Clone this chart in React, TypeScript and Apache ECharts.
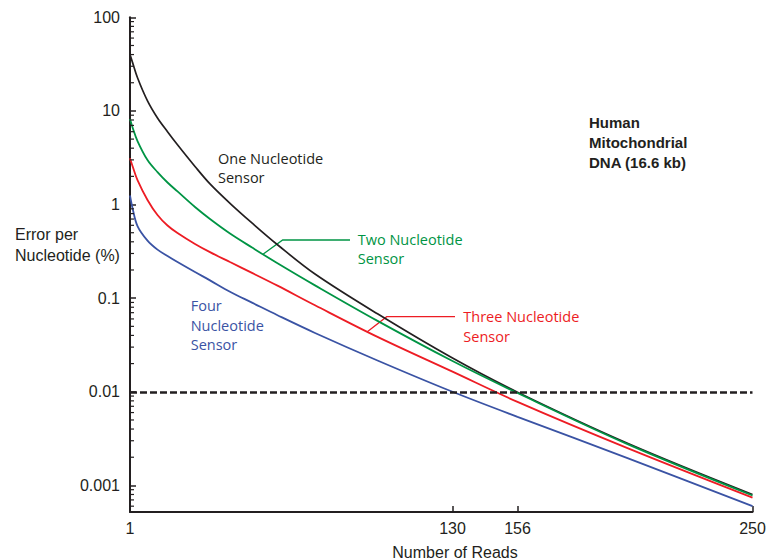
import React, { useEffect, useRef } from "react";
import * as echarts from "echarts";

// ---- data ----
const reads = [1, 2, 4, 8, 12, 16, 20, 27, 33, 41, 50, 60, 75, 100, 130, 156, 200, 250];
const oneSensor = [40, 33, 22.6, 12.8, 8.4, 6.0, 4.35, 2.55, 1.66, 1.03, 0.628, 0.372, 0.181, 0.068, 0.0229, 0.0099, 0.00282, 0.0008];
const twoSensor = [8.19, 6.7, 4.77, 2.99, 2.22, 1.72, 1.38, 0.94, 0.7, 0.49, 0.345, 0.236, 0.137, 0.0572, 0.0213, 0.0097, 0.00276, 0.00078];
const threeSensor = [3.12, 2.58, 1.82, 1.12, 0.773, 0.597, 0.496, 0.379, 0.31, 0.243, 0.185, 0.136, 0.084, 0.0386, 0.0164, 0.0078, 0.0025, 0.00074];
const fourSensor = [1.25, 0.92, 0.589, 0.412, 0.33, 0.282, 0.243, 0.19, 0.155, 0.117, 0.089, 0.0657, 0.0425, 0.0216, 0.01, 0.0054, 0.00196, 0.0006];

const threshold = 0.01;
const xTickValues = [1, 130, 156, 250];
const yMajorValues = [0.001, 0.01, 0.1, 1, 10, 100];
const yMajorLabels = ["0.001", "0.01", "0.1", "1", "10", "100"];
const yMinorValues = [
  0.0006, 0.0007, 0.0008, 0.0009,
  0.002, 0.003, 0.004, 0.005, 0.006, 0.007, 0.008, 0.009,
  0.02, 0.03, 0.04, 0.05, 0.06, 0.07, 0.08, 0.09,
  0.2, 0.3, 0.4, 0.5, 0.6, 0.7, 0.8, 0.9,
  2, 3, 4, 5, 6, 7, 8, 9,
  20, 30, 40, 50, 60, 70, 80, 90,
];
const Y_MIN = 0.00052;
const Y_MAX = 100;
const X_MIN = 1;
const X_MAX = 250;

const INK = "#231f20";
const GREEN = "#009444";
const RED = "#ed1c24";
const BLUE = "#3a53a4";
const AX_FONT = '"Liberation Sans", Arial, sans-serif';
const LB_FONT = '"Open Sans", sans-serif';

function pairs(ys: number[]) {
  return reads.map((x, i) => [x, ys[i]]);
}

export default function App() {
  const ref = useRef<HTMLDivElement>(null);
  useEffect(() => {
    if (!ref.current) return;
    const chart = echarts.init(ref.current, null, { renderer: "svg" });
    const lineSeries = (name: string, ys: number[], color: string, width: number) => ({
      name,
      type: "line",
      data: pairs(ys),
      showSymbol: false,
      symbol: "none",
      smooth: 0.35,
      lineStyle: { color, width },
      z: 3,
    });
    const option: any = {
      animation: false,
      grid: { left: 130, right: 16.5, top: 17.3, bottom: 48 },
      xAxis: {
        type: "value",
        min: X_MIN,
        max: X_MAX,
        axisLine: { onZero: false, lineStyle: { color: INK, width: 2 } },
        axisTick: {
          inside: true,
          length: 6,
          customValues: xTickValues,
          lineStyle: { color: INK, width: 1.5 },
        },
        axisLabel: {
          customValues: xTickValues,
          fontSize: 16,
          fontFamily: AX_FONT,
          color: INK,
          margin: 8,
        },
        splitLine: { show: false },
      },
      yAxis: {
        type: "log",
        logBase: 10,
        min: Y_MIN,
        max: Y_MAX,
        splitLine: { show: false },
        minorTick: { show: false },
        axisLine: { show: true, lineStyle: { color: INK, width: 2 } },
        axisTick: {
          show: true,
          inside: true,
          length: 6,
          customValues: yMajorValues,
          lineStyle: { color: INK, width: 1.5 },
        },
        axisLabel: {
          customValues: yMajorValues,
          fontSize: 16,
          fontFamily: AX_FONT,
          color: INK,
          margin: 10,
          formatter: (v: number) => {
            const k = Math.round(Math.log10(v));
            const idx = yMajorValues.findIndex((m) => Math.round(Math.log10(m)) === k);
            return idx >= 0 ? yMajorLabels[idx] : "";
          },
        },
      },
      series: [
        {
          ...lineSeries("One Nucleotide Sensor", oneSensor, INK, 1.7),
          markLine: {
            silent: true,
            symbol: "none",
            label: { show: false },
            lineStyle: { color: INK, width: 2.6, type: [7, 3] },
            data: [{ yAxis: threshold }],
          },
        },
        lineSeries("Two Nucleotide Sensor", twoSensor, GREEN, 1.8),
        lineSeries("Three Nucleotide Sensor", threeSensor, RED, 1.8),
        lineSeries("Four Nucleotide Sensor", fourSensor, BLUE, 1.8),
        {
          name: "minor ticks",
          type: "custom",
          silent: true,
          clip: false,
          z: 4,
          data: yMinorValues.map((v) => [X_MIN, v]),
          renderItem: (_params: any, api: any) => {
            const p = api.coord([api.value(0), api.value(1)]);
            return {
              type: "line",
              shape: { x1: p[0], y1: p[1], x2: p[0] + 4, y2: p[1] },
              style: { stroke: INK, lineWidth: 1.2 },
            };
          },
        },
      ],
      graphic: [
        {
          type: "text",
          x: 15,
          y: 223.5,
          style: {
            text: "Error per\nNucleotide (%)",
            font: `16px ${AX_FONT}`,
            fill: INK,
            lineHeight: 21,
            verticalAlign: "top",
          },
        },
        {
          type: "text",
          x: 455,
          y: 552,
          style: {
            text: "Number of Reads",
            font: `16px ${AX_FONT}`,
            fill: INK,
            align: "center",
            verticalAlign: "middle",
          },
        },
        {
          type: "text",
          x: 589,
          y: 112.7,
          style: {
            text: "Human\nMitochondrial\nDNA (16.6 kb)",
            font: `bold 15px ${AX_FONT}`,
            fill: INK,
            lineHeight: 20,
            verticalAlign: "top",
          },
        },
        {
          type: "text",
          x: 218,
          y: 148.5,
          style: {
            text: "One Nucleotide\nSensor",
            font: `14.5px ${LB_FONT}`,
            fill: INK,
            lineHeight: 19.5,
            verticalAlign: "top",
          },
        },
        {
          type: "text",
          x: 357.7,
          y: 229.8,
          style: {
            text: "Two Nucleotide\nSensor",
            font: `14.5px ${LB_FONT}`,
            fill: GREEN,
            lineHeight: 19,
            verticalAlign: "top",
          },
        },
        {
          type: "text",
          x: 463.3,
          y: 306.7,
          style: {
            text: "Three Nucleotide\nSensor",
            font: `14.5px ${LB_FONT}`,
            fill: RED,
            lineHeight: 20,
            verticalAlign: "top",
          },
        },
        {
          type: "text",
          x: 190.7,
          y: 296,
          style: {
            text: "Four\nNucleotide\nSensor",
            font: `14.5px ${LB_FONT}`,
            fill: BLUE,
            lineHeight: 19.5,
            verticalAlign: "top",
          },
        },
        {
          type: "polyline",
          shape: { points: [[350, 240], [282.7, 240], [263.3, 254]] },
          style: { stroke: GREEN, lineWidth: 1.3, fill: null },
        },
        {
          type: "polyline",
          shape: { points: [[455, 316.7], [386.7, 316.7], [367.3, 331.7]] },
          style: { stroke: RED, lineWidth: 1.3, fill: null },
        },
      ],
    };
    chart.setOption(option);
    return () => chart.dispose();
  }, []);
  return (
    <div
      ref={ref}
      style={{ position: "absolute", left: 0, top: 0, width: 769, height: 560, background: "#fff" }}
    />
  );
}
